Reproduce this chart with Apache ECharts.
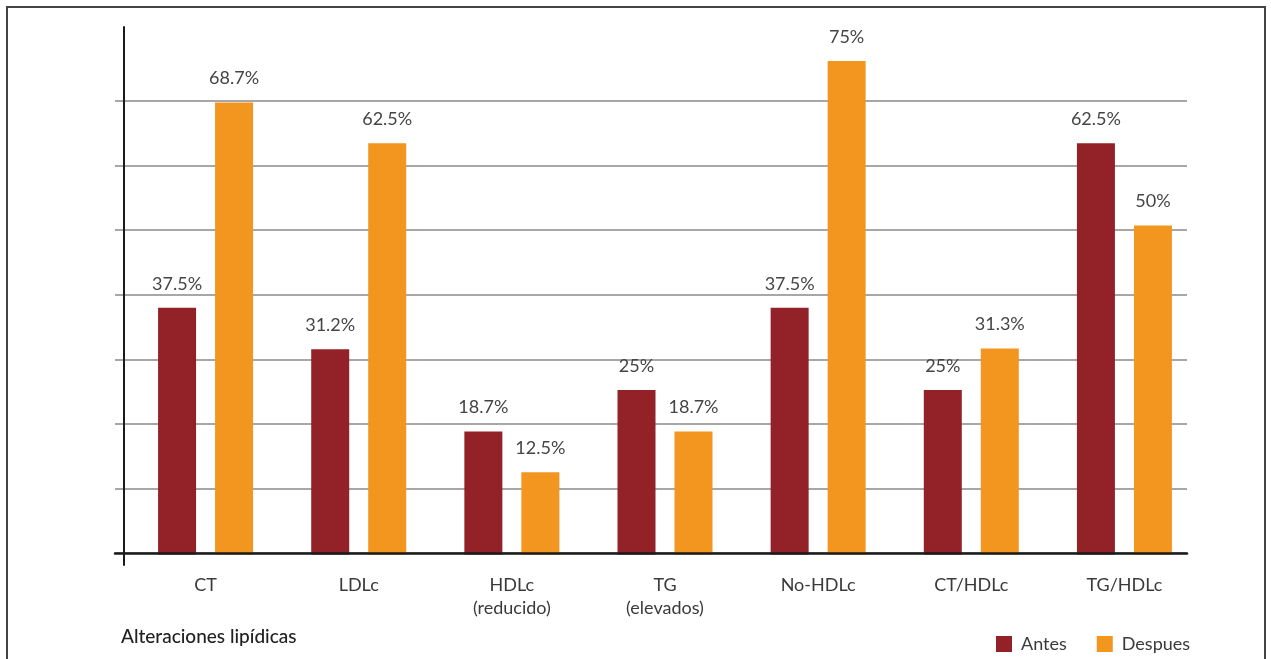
<!DOCTYPE html>
<html>
<head>
<meta charset="utf-8">
<script src="https://cdn.jsdelivr.net/npm/echarts@6/dist/echarts.min.js"></script>
<style>
	html, body { margin: 0; padding: 0; background: #fff; }
	#frame {
		position: absolute; left: 6px; top: 6px; width: 1256px; height: 700px;
		border: 2px solid #444; border-bottom: none;
	}
	#main { position: absolute; left: 0; top: 0; width: 1271px; height: 659px; }
</style>
</head>
<body>
<div id="frame"></div>
<div id="main"></div>
<script>
var categories = ['CT', 'LDLc', 'HDLc\n(reducido)', 'TG\n(elevados)', 'No-HDLc', 'CT/HDLc', 'TG/HDLc'];
var antes = [37.5, 31.2, 18.7, 25, 37.5, 25, 62.5];
var despues = [68.7, 62.5, 12.5, 18.7, 75, 31.3, 50];
var seriesNames = ['Antes', 'Despues'];

var FONT = 'Lato';
var myChart = echarts.init(document.getElementById('main'));

var labelOpt = {
	show: true,
	position: 'top',
	distance: 15,
	formatter: '{c}%',
	color: '#454545',
	fontFamily: FONT,
	fontSize: 18
};

var option = {
	animation: false,
	title: {
		text: 'Alteraciones lipídicas',
		left: 116,
		top: 622,
		textStyle: { fontFamily: FONT, fontSize: 19, fontWeight: 500, color: '#222' }
	},
	legend: {
		data: seriesNames,
		left: 991,
		top: 630,
		itemWidth: 16,
		itemHeight: 16,
		itemGap: 30,
		icon: 'rect',
		textStyle: { fontFamily: FONT, fontSize: 18, color: '#3a3a3a', padding: [0, 0, 0, 4] }
	},
	grid: [
		// bars
		{ left: 129, right: 70, top: 34.7, bottom: 104.5 },
		// gridlines and x axis line
		{ left: 115, right: 84, top: 101, bottom: 106 },
		// y axis line
		{ left: 124, right: 84, top: 27, bottom: 94 }
	],
	xAxis: [
		{
			gridIndex: 0,
			type: 'category',
			data: categories,
			axisLine: { show: false },
			axisTick: { show: false },
			axisLabel: { margin: 19.5, fontFamily: FONT, fontSize: 18, color: '#3a3a3a', lineHeight: 23 }
		},
		{
			gridIndex: 1,
			type: 'category',
			data: categories,
			z: 5,
			axisLine: { show: true, lineStyle: { color: '#1a1a1a', width: 2.5 } },
			axisTick: { show: false },
			axisLabel: { show: false }
		},
		{
			gridIndex: 2,
			type: 'category',
			data: categories,
			show: false
		}
	],
	yAxis: [
		{ gridIndex: 0, type: 'value', min: 0, max: 79, interval: 10, show: false },
		{
			gridIndex: 1,
			type: 'value',
			min: 0,
			max: 70,
			interval: 10,
			axisLine: { show: false },
			axisTick: { show: false },
			axisLabel: { show: false },
			splitLine: { show: true, lineStyle: { color: '#8a8a8a', width: 1.5 } }
		},
		{
			gridIndex: 2,
			type: 'value',
			min: 0,
			max: 100,
			axisLine: { show: true, lineStyle: { color: '#1a1a1a', width: 2 } },
			axisTick: { show: false },
			axisLabel: { show: false },
			splitLine: { show: false }
		}
	],
	series: [
		{
			name: seriesNames[0],
			type: 'bar',
			xAxisIndex: 0,
			yAxisIndex: 0,
			barWidth: 38,
			barGap: '50%',
			itemStyle: { color: '#932128' },
			label: labelOpt,
			data: antes
		},
		{
			name: seriesNames[1],
			type: 'bar',
			xAxisIndex: 0,
			yAxisIndex: 0,
			barWidth: 38,
			barGap: '50%',
			itemStyle: { color: '#F2961F' },
			label: labelOpt,
			data: despues
		}
	]
};
myChart.setOption(option);
</script>
</body>
</html>
